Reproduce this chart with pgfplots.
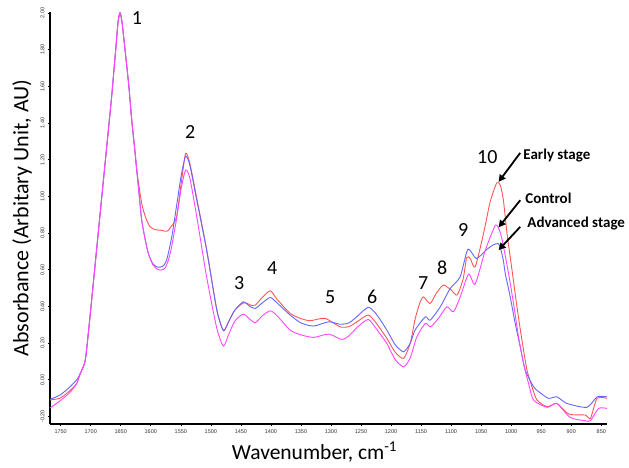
\documentclass[border=0pt]{standalone}
\usepackage{fontspec}
\setmainfont{Carlito}
\newfontfamily\tickfont{Liberation Sans}
\usepackage{pgfplots}
\usepackage{pgfplotstable}
\pgfplotsset{compat=1.18}
\usetikzlibrary{arrows.meta}
\definecolor{cred}{RGB}{255,85,85}
\definecolor{cblue}{RGB}{100,100,255}
\definecolor{cmag}{RGB}{255,70,255}

\pgfplotstableread{
w y
1767.8 -0.107
1751 -0.083
1735 -0.04
1723.3 0.0
1717.9 0.03
1709.5 0.10
1704.0 0.253
1695.2 0.543
1685.4 0.87
1677.9 1.12
1669.0 1.415
1665.0 1.55
1658.4 1.80
1654.5 1.95
1651.2 2.0
1647.9 1.95
1642.9 1.80
1636.5 1.60
1631.7 1.415
1626.2 1.24
1620 1.03
1615.1 0.87
1609 0.76
1604.1 0.689
1597 0.635
1590.1 0.616
1584 0.614
1578 0.625
1573 0.66
1565 0.78
1557 0.95
1549 1.12
1542 1.219
1535 1.17
1523.5 0.98
1507 0.707
1490 0.38
1479 0.267
1470 0.32
1460 0.38
1446 0.425
1435 0.40
1426 0.389
1414 0.42
1401 0.449
1390 0.42
1368 0.353
1350 0.31
1329 0.293
1304 0.316
1285 0.303
1270 0.31
1255 0.35
1238 0.395
1225 0.36
1207 0.271
1193 0.19
1179 0.153
1168 0.20
1160 0.271
1143 0.343
1135 0.325
1118 0.398
1101.5 0.498
1085 0.561
1072 0.712
1058 0.661
1040 0.712
1030 0.735
1022 0.743
1018 0.72
1013 0.65
1009.9 0.58
1001.6 0.452
993.3 0.307
984.9 0.18
976.6 0.053
962.7 -0.038
954 -0.065
938 -0.101
924 -0.093
907 -0.129
874 -0.15
857 -0.093
840.5 -0.093
}\tblB

\pgfplotstableread{
w y
1767.8 -0.11
1751 -0.10
1735 -0.06
1723.3 -0.02
1717.9 0.03
1709.5 0.10
1704.0 0.253
1695.2 0.543
1685.4 0.87
1677.9 1.12
1669.0 1.415
1665.0 1.55
1658.4 1.80
1654.5 1.95
1651.2 2.0
1647.9 1.95
1642.9 1.80
1636.5 1.60
1631.7 1.415
1626.2 1.24
1623.4 1.143
1615.1 0.961
1608 0.88
1601.2 0.834
1592 0.818
1584.6 0.816
1573 0.81
1565 0.84
1557 0.89
1549 1.08
1542 1.234
1535 1.18
1523.5 0.99
1507 0.71
1490 0.38
1479 0.27
1470 0.32
1460 0.38
1445 0.42
1432 0.405
1426 0.407
1414 0.45
1401 0.485
1390 0.44
1368 0.362
1351 0.335
1335 0.322
1310 0.335
1285 0.289
1270 0.29
1255 0.32
1238 0.353
1225 0.31
1207 0.226
1193 0.15
1179 0.117
1168 0.20
1160 0.33
1152 0.42
1146 0.452
1135 0.416
1125 0.47
1113 0.516
1100 0.49
1090 0.462
1080 0.55
1074 0.667
1068 0.66
1060 0.616
1046 0.798
1035 0.97
1024 1.074
1018 1.06
1013 0.98
1007 0.80
998.7 0.60
990.4 0.398
982.1 0.216
973.7 0.053
965.4 -0.038
957 -0.111
940 -0.147
924 -0.129
904 -0.187
877 -0.192
868 -0.21
857 -0.101
840.5 -0.101
}\tblR

\pgfplotstableread{
w y
1767.8 -0.154
1751 -0.115
1735 -0.07
1723.3 -0.02
1717.9 0.03
1709.5 0.10
1704.0 0.253
1695.2 0.543
1685.4 0.87
1677.9 1.12
1669.0 1.415
1665.0 1.55
1658.4 1.80
1654.5 1.95
1651.2 2.0
1647.9 1.95
1642.9 1.80
1636.5 1.60
1631.7 1.415
1626.2 1.24
1620 1.03
1615.1 0.87
1609 0.76
1604.1 0.689
1597 0.63
1590.1 0.605
1583 0.598
1576 0.61
1570 0.66
1565 0.73
1557 0.88
1549 1.05
1542 1.143
1535 1.10
1523.5 0.89
1507 0.56
1490 0.28
1479 0.184
1470 0.25
1460 0.32
1446 0.358
1435 0.33
1426 0.311
1414 0.35
1401 0.376
1390 0.35
1368 0.271
1350 0.245
1329 0.231
1304 0.249
1282 0.22
1270 0.24
1255 0.29
1238 0.329
1225 0.28
1207 0.198
1193 0.11
1179 0.071
1168 0.12
1157 0.234
1143 0.307
1134 0.289
1120 0.34
1107 0.398
1096 0.371
1085 0.45
1071 0.576
1060 0.522
1043 0.707
1026 0.843
1018 0.80
1012.7 0.725
1004.4 0.58
996.1 0.416
987.8 0.234
979.4 0.089
971.1 -0.02
962.7 -0.111
940 -0.15
924 -0.129
902 -0.205
877 -0.223
868 -0.223
854.5 -0.156
840.5 -0.156
}\tblM

\begin{document}
\begin{tikzpicture}
\useasboundingbox (-50pt,-43pt) rectangle (579pt,424pt);
\begin{axis}[
  scale only axis,
  width=557pt, height=412pt,
  x dir=reverse,
  xmin=840.5, xmax=1767.8,
  ymin=-0.241, ymax=2.005,
  axis lines*=left,
  axis line style={-, line width=1.2pt, black},
  xtick={850,900,...,1750},
  ytick={-0.2,0,0.2,0.4,0.6,0.8,1.0,1.2,1.4,1.6,1.8,2.0},
  /pgf/number format/assume math mode=true,
  /pgf/number format/1000 sep={},
  tick label style={font=\tickfont\fontsize{5.5}{6.5}\selectfont, text=black!80},
  yticklabel style={/pgf/number format/fixed, /pgf/number format/fixed zerofill, /pgf/number format/precision=2, rotate=90, anchor=south},
  tick align=outside,
  major tick length=2pt,
  tick style={black, line width=0.6pt},
  xlabel={Wavenumber, cm\textsuperscript{-1}},
  label style={font=\fontsize{21.5}{26}\selectfont},
  xlabel style={at={(axis description cs:0.5,0)}, anchor=center, yshift=-28pt, xshift=-14pt},
  clip=false,
]
\addplot[cred, line width=0.9pt, smooth, tension=0.4] table[x=w,y=y] {\tblR};
\addplot[cblue, line width=0.9pt, smooth, tension=0.4] table[x=w,y=y] {\tblB};
\addplot[cmag, line width=0.9pt, smooth, tension=0.4] table[x=w,y=y] {\tblM};

\node[rotate=90, anchor=center, inner sep=0pt, font=\fontsize{22}{26}\selectfont] at (axis description cs:-0.0503,0.5) {Absorbance (Arbitary Unit, AU)};

\begin{scope}[every node/.style={font=\fontsize{20}{24}\selectfont, inner sep=0pt}]
\node at (axis cs:1622.9,1.971) {1};
\node at (axis cs:1534.6,1.351) {2};
\node at (axis cs:1453.0,0.527) {3};
\node at (axis cs:1398.0,0.609) {4};
\node at (axis cs:1301.4,0.451) {5};
\node at (axis cs:1231.4,0.451) {6};
\node at (axis cs:1146.4,0.527) {7};
\node at (axis cs:1114.8,0.609) {8};
\node at (axis cs:1079.8,0.816) {9};
\node at (axis cs:1039.8,1.213) {10};
\end{scope}
\node[anchor=west, inner sep=0pt, font=\bfseries\fontsize{15}{18}\selectfont] at (axis cs:979.9,1.2245) {Early stage};
\node[anchor=west, inner sep=0pt, font=\bfseries\fontsize{15}{18}\selectfont] at (axis cs:976.6,0.990) {Control};
\node[anchor=west, inner sep=0pt, font=\bfseries\fontsize{15}{18}\selectfont] at (axis cs:973.2,0.852) {Advanced stage};
\draw[-{Triangle[length=7pt,width=7pt]}, line width=1.8pt] (axis cs:984.9,1.237) -- (axis cs:1021.0,1.079);
\draw[-{Triangle[length=7pt,width=7pt]}, line width=1.8pt] (axis cs:984.9,0.979) -- (axis cs:1021.0,0.831);
\draw[-{Triangle[length=7pt,width=7pt]}, line width=1.8pt] (axis cs:984.9,0.834) -- (axis cs:1021.0,0.707);
\end{axis}
\end{tikzpicture}
\end{document}
